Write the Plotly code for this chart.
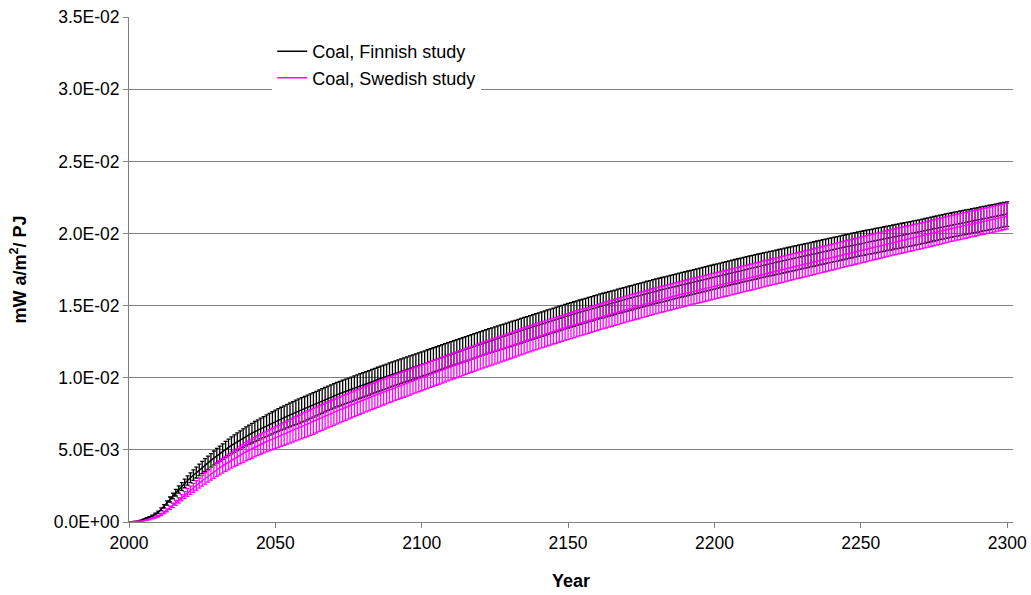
import plotly.graph_objects as go

# ---------------- data (values in units of 1e-3 mW a/m2/PJ) ----------------
years = list(range(2000, 2301))

fin_mid = [
    0, .01, .03, .06, .11, .18, .25, .33, .43, .55,
    .68, .88, 1.09, 1.32, 1.56, 1.80, 2.03, 2.25, 2.46, 2.67,
    2.88, 3.07, 3.25, 3.43, 3.61, 3.78, 3.95, 4.11, 4.27, 4.43,
    4.59, 4.74, 4.88, 5.03, 5.17, 5.31, 5.44, 5.56, 5.69, 5.81,
    5.94, 6.05, 6.16, 6.27, 6.37, 6.48, 6.58, 6.68, 6.78, 6.88,
    6.98, 7.07, 7.16, 7.25, 7.34, 7.43, 7.51, 7.60, 7.68, 7.77,
    7.85, 7.94, 8.03, 8.12, 8.21, 8.30, 8.39, 8.48, 8.57, 8.66,
    8.75, 8.83, 8.90, 8.98, 9.05, 9.13, 9.20, 9.28, 9.35, 9.43,
    9.50, 9.58, 9.65, 9.73, 9.80, 9.88, 9.95, 10.03, 10.10, 10.18,
    10.25, 10.32, 10.39, 10.46, 10.53, 10.60, 10.67, 10.74, 10.81, 10.88,
    10.95, 11.02, 11.09, 11.16, 11.23, 11.30, 11.37, 11.44, 11.51, 11.58,
    11.65, 11.72, 11.79, 11.86, 11.93, 12.00, 12.07, 12.14, 12.21, 12.28,
    12.35, 12.42, 12.48, 12.55, 12.61, 12.68, 12.74, 12.81, 12.87, 12.94,
    13.00, 13.07, 13.13, 13.20, 13.26, 13.33, 13.39, 13.46, 13.52, 13.59,
    13.65, 13.72, 13.78, 13.85, 13.91, 13.98, 14.04, 14.11, 14.17, 14.24,
    14.30, 14.36, 14.42, 14.48, 14.54, 14.60, 14.66, 14.72, 14.78, 14.84,
    14.90, 14.96, 15.01, 15.07, 15.12, 15.18, 15.23, 15.29, 15.34, 15.40,
    15.45, 15.51, 15.56, 15.62, 15.67, 15.73, 15.78, 15.84, 15.89, 15.95,
    16.00, 16.05, 16.10, 16.15, 16.20, 16.25, 16.30, 16.35, 16.40, 16.45,
    16.50, 16.55, 16.60, 16.65, 16.70, 16.75, 16.80, 16.85, 16.90, 16.95,
    17.00, 17.05, 17.10, 17.15, 17.20, 17.25, 17.30, 17.35, 17.40, 17.45,
    17.50, 17.55, 17.59, 17.64, 17.68, 17.73, 17.77, 17.82, 17.86, 17.91,
    17.95, 18.00, 18.04, 18.09, 18.13, 18.18, 18.22, 18.27, 18.31, 18.36,
    18.40, 18.45, 18.49, 18.54, 18.58, 18.63, 18.67, 18.72, 18.76, 18.81,
    18.85, 18.90, 18.94, 18.99, 19.03, 19.08, 19.12, 19.17, 19.21, 19.26,
    19.30, 19.34, 19.38, 19.42, 19.46, 19.50, 19.54, 19.58, 19.62, 19.66,
    19.70, 19.74, 19.78, 19.82, 19.86, 19.90, 19.94, 19.98, 20.02, 20.06,
    20.10, 20.15, 20.19, 20.24, 20.28, 20.33, 20.37, 20.42, 20.46, 20.51,
    20.55, 20.59, 20.63, 20.67, 20.71, 20.75, 20.79, 20.83, 20.87, 20.91,
    20.95, 20.99, 21.03, 21.07, 21.11, 21.15, 21.19, 21.23, 21.27, 21.31,
    21.35,
]

fin_err = [
    0, .001, .003, .007, .012, .02, .028, .037, .048, .061,
    .076, .098, .121, .147, .173, .2, .226, .25, .273, .297,
    .32, .341, .361, .381, .401, .42, .439, .457, .474, .492,
    .51, .527, .542, .559, .574, .59, .604, .618, .632, .646,
    .66, .672, .684, .697, .708, .72, .731, .742, .753, .764,
    .776, .786, .796, .806, .816, .826, .834, .844, .85, .85,
    .85, .85, .85, .85, .85, .85, .85, .85, .85, .85,
    .85, .85, .85, .85, .85, .85, .85, .85, .85, .85,
    .85, .85, .85, .85, .85, .85, .85, .85, .85, .85,
    .85, .85, .85, .85, .85, .85, .85, .85, .85, .85,
    .85, .85, .85, .85, .85, .85, .85, .85, .85, .85,
    .85, .85, .85, .85, .85, .85, .85, .85, .85, .85,
    .85, .85, .85, .85, .85, .85, .85, .85, .85, .85,
    .85, .85, .85, .85, .85, .85, .85, .85, .85, .85,
    .85, .85, .85, .85, .85, .85, .85, .85, .85, .85,
    .85, .85, .85, .85, .85, .85, .85, .85, .85, .85,
    .85, .85, .85, .85, .85, .85, .85, .85, .85, .85,
    .85, .85, .85, .85, .85, .85, .85, .85, .85, .85,
    .85, .85, .85, .85, .85, .85, .85, .85, .85, .85,
    .85, .85, .85, .85, .85, .85, .85, .85, .85, .85,
    .85, .85, .85, .85, .85, .85, .85, .85, .85, .85,
    .85, .85, .85, .85, .85, .85, .85, .85, .85, .85,
    .85, .85, .85, .85, .85, .85, .85, .85, .85, .85,
    .85, .85, .85, .85, .85, .85, .85, .85, .85, .85,
    .85, .85, .85, .85, .85, .85, .85, .85, .85, .85,
    .85, .85, .85, .85, .85, .85, .85, .85, .85, .85,
    .85, .85, .85, .85, .85, .85, .85, .85, .85, .85,
    .85, .85, .85, .85, .85, .85, .85, .85, .85, .85,
    .85, .85, .85, .85, .85, .85, .85, .85, .85, .85,
    .85, .85, .85, .85, .85, .85, .85, .85, .85, .85,
    .85,
]

swe_mid = [
    0, .005, .015, .03, .055, .09, .13, .18, .25, .32,
    .40, .52, .66, .81, .98, 1.15, 1.32, 1.50, 1.68, 1.86,
    2.04, 2.20, 2.37, 2.53, 2.70, 2.86, 3.02, 3.18, 3.33, 3.48,
    3.63, 3.76, 3.90, 4.03, 4.16, 4.29, 4.41, 4.52, 4.64, 4.75,
    4.87, 4.98, 5.08, 5.19, 5.29, 5.40, 5.49, 5.58, 5.66, 5.75,
    5.84, 5.93, 6.02, 6.10, 6.19, 6.28, 6.37, 6.46, 6.55, 6.63,
    6.72, 6.81, 6.90, 6.98, 7.07, 7.16, 7.25, 7.34, 7.42, 7.51,
    7.60, 7.69, 7.77, 7.86, 7.94, 8.03, 8.11, 8.20, 8.28, 8.37,
    8.45, 8.53, 8.61, 8.69, 8.77, 8.85, 8.93, 9.01, 9.09, 9.17,
    9.25, 9.33, 9.40, 9.48, 9.55, 9.63, 9.70, 9.78, 9.85, 9.93,
    10.00, 10.08, 10.15, 10.23, 10.30, 10.38, 10.45, 10.53, 10.60, 10.68,
    10.75, 10.83, 10.90, 10.98, 11.05, 11.13, 11.20, 11.28, 11.35, 11.43,
    11.50, 11.57, 11.64, 11.71, 11.78, 11.85, 11.92, 11.99, 12.06, 12.13,
    12.20, 12.27, 12.34, 12.41, 12.48, 12.55, 12.62, 12.69, 12.76, 12.83,
    12.90, 12.97, 13.03, 13.10, 13.16, 13.23, 13.29, 13.36, 13.42, 13.49,
    13.55, 13.61, 13.67, 13.74, 13.80, 13.86, 13.92, 13.98, 14.05, 14.11,
    14.17, 14.23, 14.29, 14.35, 14.41, 14.47, 14.53, 14.59, 14.65, 14.71,
    14.77, 14.83, 14.88, 14.94, 14.99, 15.05, 15.11, 15.16, 15.22, 15.27,
    15.33, 15.38, 15.43, 15.49, 15.54, 15.59, 15.64, 15.69, 15.75, 15.80,
    15.85, 15.90, 15.95, 16.00, 16.05, 16.10, 16.15, 16.20, 16.25, 16.30,
    16.35, 16.40, 16.45, 16.50, 16.55, 16.60, 16.65, 16.70, 16.75, 16.80,
    16.85, 16.90, 16.95, 17.00, 17.05, 17.10, 17.15, 17.20, 17.25, 17.30,
    17.35, 17.40, 17.45, 17.50, 17.55, 17.60, 17.65, 17.70, 17.75, 17.80,
    17.85, 17.90, 17.95, 18.00, 18.05, 18.10, 18.15, 18.20, 18.25, 18.30,
    18.35, 18.40, 18.45, 18.50, 18.55, 18.60, 18.65, 18.70, 18.75, 18.80,
    18.85, 18.90, 18.95, 19.00, 19.05, 19.10, 19.15, 19.20, 19.25, 19.30,
    19.35, 19.40, 19.44, 19.49, 19.53, 19.58, 19.62, 19.67, 19.71, 19.76,
    19.80, 19.85, 19.90, 19.95, 20.00, 20.05, 20.10, 20.15, 20.20, 20.25,
    20.30, 20.35, 20.39, 20.44, 20.48, 20.53, 20.57, 20.62, 20.66, 20.71,
    20.75, 20.80, 20.84, 20.89, 20.93, 20.98, 21.02, 21.07, 21.11, 21.16,
    21.20,
]

swe_err = [
    0, .001, .002, .004, .007, .012, .017, .023, .033, .042,
    .052, .068, .086, .105, .127, .15, .172, .195, .218, .242,
    .265, .286, .308, .329, .351, .372, .393, .413, .433, .452,
    .472, .489, .507, .524, .541, .558, .573, .588, .603, .618,
    .633, .647, .660, .675, .688, .702, .714, .725, .736, .748,
    .759, .771, .783, .793, .805, .816, .828, .84, .852, .862,
    .874, .885, .897, .9, .9, .9, .9, .9, .9, .9,
    .9, .9, .9, .9, .9, .9, .9, .9, .9, .9,
    .9, .9, .9, .9, .9, .9, .9, .9, .9, .9,
    .9, .9, .9, .9, .9, .9, .9, .9, .9, .9,
    .9, .9, .9, .9, .9, .9, .9, .9, .9, .9,
    .9, .9, .9, .9, .9, .9, .9, .9, .9, .9,
    .9, .9, .9, .9, .9, .9, .9, .9, .9, .9,
    .9, .9, .9, .9, .9, .9, .9, .9, .9, .9,
    .9, .9, .9, .9, .9, .9, .9, .9, .9, .9,
    .9, .9, .9, .9, .9, .9, .9, .9, .9, .9,
    .9, .9, .9, .9, .9, .9, .9, .9, .9, .9,
    .9, .9, .9, .9, .9, .9, .9, .9, .9, .9,
    .9, .9, .9, .9, .9, .9, .9, .9, .9, .9,
    .9, .9, .9, .9, .9, .9, .9, .9, .9, .9,
    .9, .9, .9, .9, .9, .9, .9, .9, .9, .9,
    .9, .9, .9, .9, .9, .9, .9, .9, .9, .9,
    .9, .9, .9, .9, .9, .9, .9, .9, .9, .9,
    .9, .9, .9, .9, .9, .9, .9, .9, .9, .9,
    .9, .9, .9, .9, .9, .9, .9, .9, .9, .9,
    .9, .9, .9, .9, .9, .9, .9, .9, .9, .9,
    .9, .9, .9, .9, .9, .9, .9, .9, .9, .9,
    .9, .9, .9, .9, .9, .9, .9, .9, .9, .9,
    .9, .9, .9, .9, .9, .9, .9, .9, .9, .9,
    .9, .9, .9, .9, .9, .9, .9, .9, .9, .9,
    .9,
]

series_names = ["Coal, Finnish study", "Coal, Swedish study"]
series_colors = ["#000000", "#FF00FF"]

y_tick_vals = [0, 0.005, 0.010, 0.015, 0.020, 0.025, 0.030, 0.035]
y_tick_text = ["0.0E+00", "5.0E-03", "1.0E-02", "1.5E-02",
               "2.0E-02", "2.5E-02", "3.0E-02", "3.5E-02"]
x_tick_vals = [2000, 2050, 2100, 2150, 2200, 2250, 2300]

SCALE = 1e-3
FONT = "Liberation Sans, Arial, sans-serif"

fig = go.Figure()
for name, color, mid, err in [
    (series_names[0], series_colors[0], fin_mid, fin_err),
    (series_names[1], series_colors[1], swe_mid, swe_err),
]:
    fig.add_trace(go.Scatter(
        x=years,
        y=[v * SCALE for v in mid],
        mode="lines",
        name=name,
        line=dict(color=color, width=1.5),
        error_y=dict(type="data", symmetric=True,
                     array=[e * SCALE for e in err],
                     color=color, thickness=1.3, width=2),
    ))

GRID = "#808080"
fig.update_layout(
    width=1031, height=595,
    margin=dict(l=129, r=18, t=17, b=73, autoexpand=False),
    paper_bgcolor="white", plot_bgcolor="white",
    font=dict(family=FONT, color="black", size=17),
    showlegend=True,
    legend=dict(x=0.162, y=0.968, xanchor="left", yanchor="top",
                bgcolor="white", borderwidth=0,
                font=dict(family=FONT, size=18, color="black")),
    xaxis=dict(
        range=[2000, 2302], tickvals=x_tick_vals,
        showgrid=False, zeroline=False,
        showline=True, linecolor=GRID, linewidth=1,
        ticks="outside", ticklen=5, tickcolor=GRID,
        tickfont=dict(size=17.5), ticklabeloverflow="allow",
        title=dict(text="<b>Year</b>", font=dict(size=18), standoff=22),
        automargin=False,
    ),
    yaxis=dict(
        range=[0, 0.03501], tickvals=y_tick_vals, ticktext=y_tick_text,
        showgrid=True, gridcolor=GRID, gridwidth=1, zeroline=False,
        showline=True, linecolor=GRID, linewidth=1,
        ticks="outside", ticklen=5, tickcolor=GRID,
        tickfont=dict(size=17.5), ticklabeloverflow="allow",
        title=dict(text="<b>mW a/m<sup>2</sup>/ PJ</b>", font=dict(size=18), standoff=22),
        automargin=False,
    ),
)

# remove the default 8px page margin so the figure fills the window exactly
fig.write_html(
    "out.html",
    config={"displayModeBar": False},
    post_script="document.body.style.margin='0';document.body.style.overflow='hidden';",
)
